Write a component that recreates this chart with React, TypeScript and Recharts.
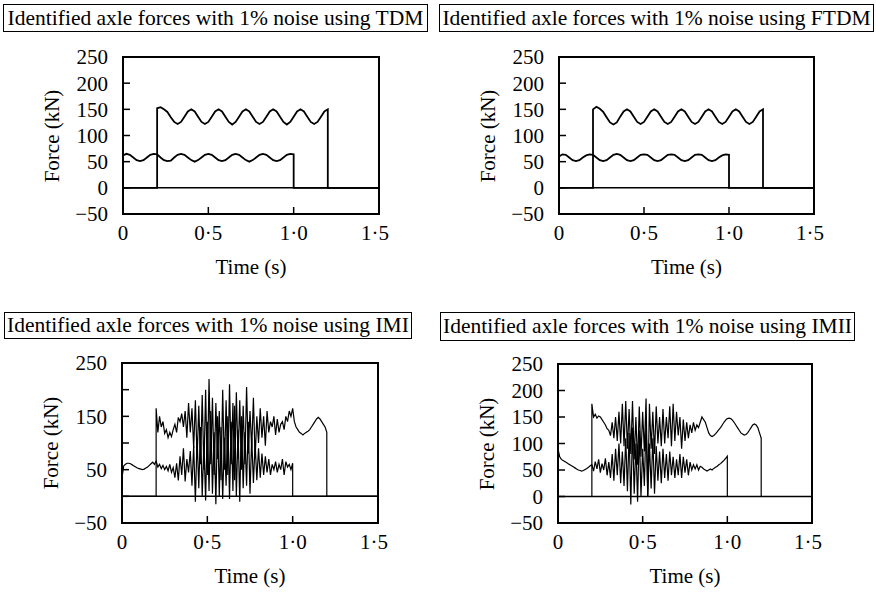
import { Line, LineChart, ReferenceArea, ReferenceLine, XAxis, YAxis } from 'recharts'

const FONT = '"Liberation Serif", "Times New Roman", serif'

const X_TICKS = [0, 0.5, 1, 1.5]
const X_TICK_LABELS = ['0', '0·5', '1·0', '1·5']
const Y_TICKS = [-50, 0, 50, 100, 150, 200, 250]
const Y_LABELS = ['−50', '0', '50', '100', '150', '200', '250']
const Y_LABELS_SPARSE = ['−50', '', '50', '', '150', '', '250']

// TDM: sampled every 0.02 s; front axle from 0 s, rear axle from 0.2 s
const TDM_FRONT = [
  62, 65, 63, 58, 53, 51, 53, 58, 63, 65, 64, 58, 53, 51, 52, 58, 63, 65, 63, 58, 53, 50, 53, 58, 63, 65,
  63, 58, 53, 51, 53, 58, 63, 65, 63, 58, 53, 50, 53, 58, 63, 65, 63, 58, 53, 51, 53, 58, 63, 65, 64,
]
const TDM_REAR = [
  152, 154, 150, 145, 135, 126, 122, 126, 136, 146, 150, 146, 136, 126, 122, 126, 136, 146, 150, 146, 136,
  126, 121, 126, 136, 146, 150, 146, 136, 126, 122, 126, 136, 146, 150, 146, 136, 126, 121, 126, 136, 146,
  150, 146, 136, 126, 122, 126, 136, 146, 150,
]
const FTDM_FRONT = [
  60, 64, 63, 58, 53, 51, 53, 58, 62, 64, 63, 58, 53, 51, 53, 58, 63, 65, 63, 58, 53, 51, 53, 58, 63, 64,
  63, 58, 53, 51, 53, 58, 63, 64, 63, 58, 53, 51, 53, 58, 63, 64, 63, 58, 53, 51, 53, 58, 62, 64, 63,
]
const FTDM_REAR = [
  150, 155, 151, 145, 135, 125, 121, 125, 136, 146, 150, 146, 136, 126, 122, 126, 136, 146, 150, 146, 136,
  126, 122, 126, 136, 146, 150, 146, 136, 126, 122, 126, 136, 146, 150, 146, 136, 126, 122, 126, 136, 146,
  150, 146, 136, 126, 122, 126, 136, 146, 150,
]

// IMI / IMII: sampled every 0.01 s
const IMI_FRONT = [
  35, 57, 60, 62, 62, 61, 59, 57, 55, 53, 52, 51, 50, 51, 53, 55, 58, 61, 64, 60, 66,
  55, 60, 52, 58, 50, 56, 48, 60, 45, 54,
  35, 62, 30, 75, 40, 90, 28, 70, 45, 85,
  20, 95, -10, 110, 15, 130, 0, 100, -8, 140,
  10, 160, 5, 120, -15, 150, 0, 130, -5, 110,
  20, 150, -5, 140, 10, 170, 0, 125, -10, 150,
  15, 120, 20, 140, 5, 110, 25, 100, 30, 90,
  35, 80, 40, 75, 45, 70, 40, 60, 50, 65,
  45, 60, 50, 70, 40, 65, 55, 60, 50, 62,
]
const IMI_REAR = [
  165, 120, 150, 130, 140, 118, 125, 110, 120, 112, 125,
  135, 120, 148, 140, 155, 130, 160, 110, 175, 120,
  165, 90, 180, 70, 170, 60, 190, 50, 200, 40,
  220, 60, 185, 40, 175, 70, 160, 30, 200, 50,
  180, 40, 210, 60, 175, 30, 195, 70, 180, 50,
  170, 60, 205, 80, 160, 90, 185, 70, 150, 100,
  165, 110, 150, 95, 160, 120, 140, 130, 150, 115,
  145, 120, 135, 140, 125, 150, 140, 160, 150, 165,
  140, 130, 125, 120, 118, 115, 118, 120, 122, 125,
  130, 135, 140, 145, 148, 145, 140, 135, 130, 120,
]
const IMII_FRONT = [
  90, 75, 70, 68, 66, 64, 62, 60, 58, 56, 54, 52, 50, 49, 48, 49, 51, 53, 55, 58, 60,
  48, 66, 52, 70, 45, 62, 50, 72, 40, 65,
  35, 80, 30, 90, 40, 100, 25, 85, 20, 110,
  10, 120, -15, 130, 5, 100, -10, 125, 0, 90,
  20, 140, 0, 100, 15, 110, 5, 95, 30, 85,
  25, 90, 35, 80, 30, 85, 40, 75, 35, 70,
  40, 80, 35, 75, 45, 70, 40, 65, 50, 60,
  52, 60, 50, 57, 55, 52, 50, 48, 50, 52,
  50, 53, 55, 57, 60, 62, 65, 68, 72, 76,
]
const IMII_REAR = [
  175, 150, 155, 148, 152, 150, 145, 140, 135, 128, 125,
  115, 140, 110, 150, 105, 160, 100, 175, 95, 180,
  90, 165, 80, 180, 70, 150, 60, 170, 75, 160,
  85, 185, 0, 175, 90, 160, 80, 170, 100, 150,
  95, 165, 100, 150, 110, 170, 95, 175, 105, 160,
  115, 150, 90, 145, 105, 140, 110, 135, 120, 140,
  125, 135, 130, 140, 150, 145, 140, 130, 120, 115,
  113, 115, 118, 122, 126, 130, 135, 140, 144, 147,
  148, 147, 144, 140, 135, 130, 125, 120, 118, 116,
  117, 120, 125, 130, 135, 137, 135, 130, 120, 110,
]

type Pt = { t: number; f: number }

// zero before the axle enters, the samples, then back to zero once it has left
function trace(start: number, step: number, values: number[]): Pt[] {
  const pts: Pt[] = [{ t: 0, f: 0 }]
  if (start > 0) pts.push({ t: start, f: 0 })
  values.forEach((f, i) => pts.push({ t: +(start + i * step).toFixed(3), f }))
  const end = +(start + (values.length - 1) * step).toFixed(3)
  pts.push({ t: end, f: 0 }, { t: 1.5, f: 0 })
  return pts
}

type Box = { left: number; top: number; width: number; height: number }
type Plot = { left: number; top: number; right: number; bottom: number }

const YW = 100
const TOP = 24

function Panel({
  title,
  box,
  plot,
  series,
  yLabels,
  lineWidth,
}: {
  title: string
  box: Box
  plot: Plot
  series: Pt[][]
  yLabels: string[]
  lineWidth: number
}) {
  const pw = plot.right - plot.left
  const ph = plot.bottom - plot.top
  const tick = { fill: '#000', fontSize: 21, fontFamily: FONT }
  return (
    <>
      <div
        style={{
          position: 'absolute',
          left: box.left,
          top: box.top,
          width: box.width,
          height: box.height,
          boxSizing: 'border-box',
          border: '1.5px solid #000',
          display: 'flex',
          alignItems: 'center',
          justifyContent: 'center',
          fontSize: 21.5,
          whiteSpace: 'nowrap',
        }}
      >
        {title}
      </div>
      <div style={{ position: 'absolute', left: plot.left - YW, top: plot.top - TOP }}>
        <LineChart
          width={YW + pw + 10}
          height={TOP + ph + 60}
          margin={{ top: TOP, right: 10, left: 0, bottom: 0 }}
        >
          <XAxis
            dataKey="t"
            type="number"
            domain={[0, 1.5]}
            ticks={X_TICKS}
            tickFormatter={(v: number) => X_TICK_LABELS[X_TICKS.indexOf(v)] ?? ''}
            height={60}
            tickSize={-7}
            tickMargin={18}
            tick={tick}
            axisLine={{ stroke: '#000', strokeWidth: 2 }}
            tickLine={{ stroke: '#000', strokeWidth: 1.5 }}
            allowDataOverflow
          />
          <YAxis
            type="number"
            domain={[-50, 250]}
            ticks={Y_TICKS}
            interval={0}
            tickFormatter={(v: number) => yLabels[Y_TICKS.indexOf(v)] ?? ''}
            width={YW}
            tickSize={-7}
            tickMargin={22}
            tick={tick}
            axisLine={{ stroke: '#000', strokeWidth: 2 }}
            tickLine={{ stroke: '#000', strokeWidth: 1.5 }}
            allowDataOverflow
          />
          <ReferenceArea x1={0} x2={1.5} y1={-50} y2={250} fill="none" stroke="#000" strokeWidth={2} />
          <ReferenceLine y={0} stroke="#000" strokeWidth={1.5} />
          {series.map((d, i) => (
            <Line
              key={i}
              data={d}
              dataKey="f"
              type="linear"
              stroke="#000"
              strokeWidth={lineWidth}
              dot={false}
              activeDot={false}
              isAnimationActive={false}
            />
          ))}
        </LineChart>
      </div>
      <div
        style={{
          position: 'absolute',
          left: plot.left,
          width: pw,
          top: plot.bottom + 41,
          textAlign: 'center',
          fontSize: 21,
          lineHeight: '24px',
        }}
      >
        Time (s)
      </div>
      <div
        style={{
          position: 'absolute',
          left: plot.left - 71 - 60,
          top: plot.top + ph / 2 - 12,
          width: 120,
          textAlign: 'center',
          fontSize: 21,
          lineHeight: '24px',
          transform: 'rotate(-90deg)',
          whiteSpace: 'nowrap',
        }}
      >
        Force (kN)
      </div>
    </>
  )
}

export default function App() {
  return (
    <div
      style={{
        position: 'absolute',
        left: 0,
        top: 0,
        width: 876,
        height: 592,
        background: '#fff',
        fontFamily: FONT,
        color: '#000',
        overflow: 'hidden',
      }}
    >
      <Panel
        title="Identified axle forces with 1% noise using TDM"
        box={{ left: 3, top: 4, width: 425, height: 28 }}
        plot={{ left: 123, top: 57, right: 379, bottom: 214 }}
        series={[trace(0, 0.02, TDM_FRONT), trace(0.2, 0.02, TDM_REAR)]}
        yLabels={Y_LABELS}
        lineWidth={1.8}
      />
      <Panel
        title="Identified axle forces with 1% noise using FTDM"
        box={{ left: 439, top: 4, width: 435, height: 28 }}
        plot={{ left: 559, top: 57, right: 814, bottom: 214 }}
        series={[trace(0, 0.02, FTDM_FRONT), trace(0.2, 0.02, FTDM_REAR)]}
        yLabels={Y_LABELS}
        lineWidth={1.8}
      />
      <Panel
        title="Identified axle forces with 1% noise using IMI"
        box={{ left: 4, top: 312, width: 408, height: 27 }}
        plot={{ left: 122, top: 363, right: 378, bottom: 523 }}
        series={[trace(0, 0.01, IMI_FRONT), trace(0.2, 0.01, IMI_REAR)]}
        yLabels={Y_LABELS_SPARSE}
        lineWidth={1.2}
      />
      <Panel
        title="Identified axle forces with 1% noise using IMII"
        box={{ left: 440, top: 312, width: 415, height: 29 }}
        plot={{ left: 558, top: 364, right: 812, bottom: 523 }}
        series={[trace(0, 0.01, IMII_FRONT), trace(0.2, 0.01, IMII_REAR)]}
        yLabels={Y_LABELS}
        lineWidth={1.2}
      />
    </div>
  )
}
